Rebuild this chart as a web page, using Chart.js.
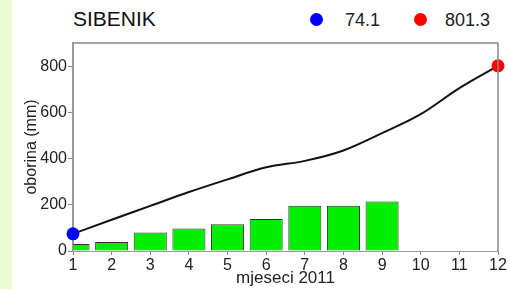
<!DOCTYPE html>
<html>
<head>
<meta charset="utf-8">
<script src="https://cdn.jsdelivr.net/npm/chart.js@4"></script>
<style>
  body { margin: 0; background: #fff; font-family: "Liberation Sans", Arial, sans-serif; }
  #wrap { position: relative; width: 510px; height: 289px; overflow: hidden; }
  #strip { position: absolute; left: 0; top: 0; width: 12px; height: 289px; background: #eafcd6; }
  #title { position: absolute; left: 73px; top: 9px; font-size: 21px; line-height: 20px; color: #111; }
  .leg { position: absolute; top: 10px; font-size: 18px; line-height: 20px; color: #222; }
  .dot { position: absolute; top: 13px; width: 13px; height: 13px; border-radius: 50%; }
  canvas { position: absolute; left: 0; top: 0; }
</style>
</head>
<body>
<div id="wrap">
  <div id="strip"></div>
  <div id="title">SIBENIK</div>
  <div class="dot" style="left:310px; background:#0000ff"></div>
  <div class="leg" id="legFirst" style="left:345px"></div>
  <div class="dot" style="left:414px; background:#ff0000"></div>
  <div class="leg" id="legLast" style="left:445px"></div>
  <canvas id="chart" width="510" height="289"></canvas>
</div>
<script>
const months = ['1', '2', '3', '4', '5', '6', '7', '8', '9', '10', '11', '12'];
const monthly2011 = [30, 39, 80, 97, 116, 138, 196, 196, 214, null, null, null];
const cumulative = [74.1, 135, 195, 255, 310, 362, 390, 435, 510, 592, 705, 801.3];
const yTicks = [0, 200, 400, 600, 800];

document.getElementById('legFirst').textContent = cumulative[0].toFixed(1);
document.getElementById('legLast').textContent = cumulative[cumulative.length - 1].toFixed(1);

const lastIdx = cumulative.length - 1;
const pointR = cumulative.map((v, i) => (i === 0 || i === lastIdx) ? 6.5 : 0);
const pointC = cumulative.map((v, i) => i === 0 ? '#0000ff' : (i === lastIdx ? '#ff0000' : '#000'));

const framePlugin = {
    id: 'frame',
    afterDraw(chart) {
        const a = chart.chartArea;
        const ctx = chart.ctx;
        ctx.save();
        ctx.strokeStyle = '#8a8a8a';
        ctx.lineWidth = 1.5;
        ctx.beginPath();
        ctx.moveTo(a.left, a.top);
        ctx.lineTo(a.right, a.top);
        ctx.lineTo(a.right, a.bottom);
        ctx.stroke();
        ctx.restore();
    }
};

new Chart(document.getElementById('chart'), {
    type: 'bar',
    data: {
        labels: months,
        datasets: [
            {
                type: 'line',
                data: cumulative,
                borderColor: '#111',
                borderWidth: 2,
                pointRadius: pointR,
                pointHoverRadius: pointR,
                pointBackgroundColor: pointC,
                pointBorderWidth: 0,
                cubicInterpolationMode: 'monotone',
                clip: false,
                order: 0
            },
            {
                data: monthly2011,
                backgroundColor: '#00ee00',
                borderColor: '#333',
                borderWidth: 1,
                categoryPercentage: 1,
                barPercentage: 0.855,
                clip: 0,
                order: 1
            }
        ]
    },
    options: {
        responsive: false,
        animation: false,
        layout: { padding: { top: 43, right: 12, left: 0, bottom: 0 } },
        plugins: {
            legend: { display: false },
            tooltip: { enabled: false }
        },
        scales: {
            x: {
                offset: false,
                grid: { offset: false, drawOnChartArea: false, tickLength: 4, color: '#888' },
                border: { color: '#999', width: 1 },
                ticks: { color: '#222', padding: 1, font: { family: 'Liberation Sans', size: 16 } },
                title: {
                    display: true,
                    text: 'mjeseci 2011',
                    color: '#222',
                    padding: { top: 0, bottom: 0 },
                    font: { family: 'Liberation Sans', size: 17 }
                },
                afterFit(scale) { scale.height = 38; }
            },
            y: {
                min: 0,
                max: 900,
                afterBuildTicks(scale) { scale.ticks = yTicks.map(v => ({ value: v })); },
                grid: { drawOnChartArea: false, tickLength: 5, color: '#888' },
                border: { color: '#999', width: 2 },
                ticks: { color: '#222', padding: 1, font: { family: 'Liberation Sans', size: 16 } },
                title: {
                    display: true,
                    text: 'oborina (mm)',
                    color: '#222',
                    padding: { top: 22, bottom: 0 },
                    font: { family: 'Liberation Sans', size: 16 }
                },
                afterFit(scale) { scale.width = 73; }
            }
        }
    },
    plugins: [framePlugin]
});
</script>
</body>
</html>
